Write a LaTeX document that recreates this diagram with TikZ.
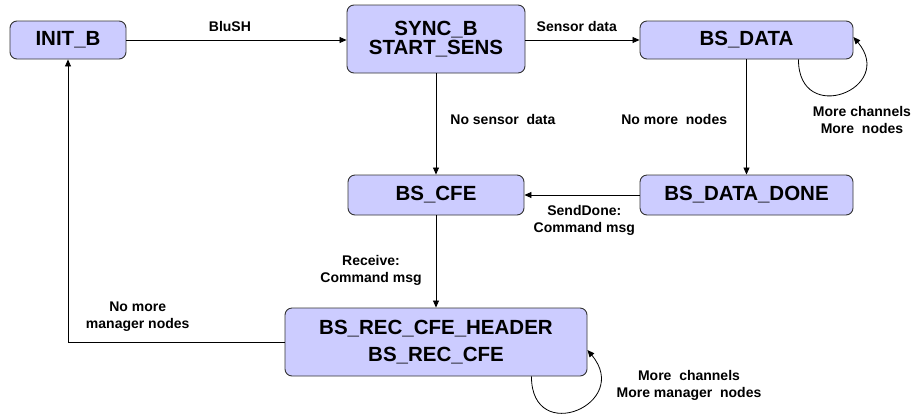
\documentclass[tikz,border=0pt]{standalone}
\usepackage{fontspec}
\setmainfont{Liberation Sans}
\usetikzlibrary{arrows.meta,positioning}
\definecolor{statefill}{RGB}{204,204,255}
\definecolor{stateline}{RGB}{51,51,51}
\tikzset{
  state/.style={draw=stateline,fill=statefill,rounded corners=7pt,line width=0.9pt,
    inner sep=0pt,align=center,font=\fontsize{20.5}{19}\selectfont\bfseries},
  trans/.style={line width=0.8pt,-{Triangle[length=7pt,width=6pt]}},
  lbl/.style={font=\fontsize{14}{17}\selectfont\bfseries,align=center,inner sep=1pt},
  selfloop/.style={trans,out=-90,in=-50,looseness=2.9}
}
\begin{document}
\begin{tikzpicture}[x=1pt,y=1pt]
    \useasboundingbox (0,0) rectangle (915,-413);
    \node[state,minimum width=116pt,minimum height=38pt] (init) at (68,-40) {INIT\_B};
    \node[state,minimum width=178pt,minimum height=68pt] (sync) at (436,-39) {SYNC\_B\\START\_SENS};
    \node[state,minimum width=213pt,minimum height=38pt] (bsdata) at (746.5,-40) {BS\_DATA};
    \node[state,minimum width=176pt,minimum height=40pt] (cfe) at (436,-195) {BS\_CFE};
    \node[state,minimum width=213pt,minimum height=40pt] (bsdone) at (746.5,-195) {BS\_DATA\_DONE};
    \node[state,minimum width=302pt,minimum height=68pt,font=\fontsize{20.5}{27}\selectfont\bfseries] (rec) at (436,-342) {BS\_REC\_CFE\_HEADER\\BS\_REC\_CFE};
    \draw[trans] (init.east) -- (init.east -| sync.west) node[lbl,above=7pt,pos=0.47] (blush) {BluSH};
    \draw[trans] (bsdata.west -| sync.east) -- (bsdata.west) node[lbl,above=7pt,pos=0.45] (sensdata) {Sensor data};
    \draw[trans] (sync) -- (cfe) node[lbl,right=13pt,pos=0.456] (nosens) {No sensor\ \ data};
    \draw[trans] (bsdata) -- (bsdone) node[lbl,left=18pt,pos=0.52] (nomore) {No more\ \ nodes};
    \draw[trans] (bsdone) -- (cfe) node[lbl,below=9pt,pos=0.48] (senddone) {SendDone:\\Command msg};
    \draw[trans] (cfe) -- (rec) node[lbl,left=13pt,pos=0.6] (recv) {Receive:\\Command msg};
    \draw[trans] (rec.west) -| (init.south) node[lbl,above=9pt,pos=0.339] (nomgr) {No more\\manager nodes};
    \draw[selfloop] ([xshift=-55pt]bsdata.south east) to ([yshift=3pt]bsdata.east);
    \draw[selfloop] ([xshift=-56pt]rec.south east) to ([yshift=-8pt]rec.east);
    \node[lbl] (morebs) at (862,-119.5) {More channels\\More\ \ nodes};
    \node[lbl] (moremgr) at (689,-385.5) {More\ \ channels\\More manager\ \ nodes};
\end{tikzpicture}
\end{document}
